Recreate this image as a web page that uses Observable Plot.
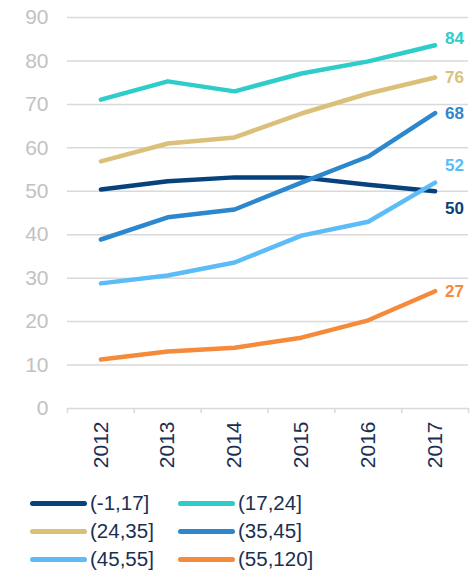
<!DOCTYPE html>
<html>
<head>
<meta charset="utf-8">
<script src="https://cdn.jsdelivr.net/npm/d3@7"></script>
<script src="https://cdn.jsdelivr.net/npm/@observablehq/plot@0.6"></script>
<style>
  html, body { margin: 0; padding: 0; background: #fff; }
  body { width: 471px; font-family: "Liberation Sans", Arial, sans-serif; }
  #legend { display: grid; grid-template-columns: 148px 148px; margin-left: 30px; margin-top: 1px; }
  .item { display: flex; align-items: center; height: 28px; line-height: 22px; font-size: 20.5px; color: #1c2f52; }
  .sw { width: 57px; height: 5px; border-radius: 3px; margin-right: 3px; }
</style>
</head>
<body>
<div id="chart"></div>
<div id="legend"></div>
<script>
const years = [2012, 2013, 2014, 2015, 2016, 2017];
const seriesNames = ["(-1,17]", "(17,24]", "(24,35]", "(35,45]", "(45,55]", "(55,120]"];
const colors = ["#08427c", "#2ecdca", "#dbc07a", "#2d87cc", "#5cbcf7", "#f68a3b"];
const s_m1_17   = [50.4, 52.3, 53.2, 53.2, 51.5, 50.0];
const s_17_24   = [71.1, 75.3, 73.0, 77.1, 79.9, 83.6];
const s_24_35   = [56.9, 61.0, 62.4, 67.9, 72.5, 76.2];
const s_35_45   = [38.9, 44.0, 45.8, 52.0, 58.0, 68.0];
const s_45_55   = [28.8, 30.6, 33.6, 39.8, 43.0, 52.0];
const s_55_120  = [11.3, 13.1, 14.0, 16.3, 20.3, 27.0];
const endLabels = ["50", "84", "76", "68", "52", "27"];
const yTicks = [0, 10, 20, 30, 40, 50, 60, 70, 80, 90];

const allSeries = [s_m1_17, s_17_24, s_24_35, s_35_45, s_45_55, s_55_120];
const labelDy = [17, -7, 0, 0, -17, 0];

const data = [];
allSeries.forEach((vals, i) => vals.forEach((v, j) => data.push({series: seriesNames[i], year: years[j], value: v})));
const last = allSeries.map((vals, i) => ({series: seriesNames[i], year: years[years.length - 1], value: vals[vals.length - 1], label: endLabels[i], dy: labelDy[i], color: colors[i]}));
const boundaries = years.map(y => y - 0.5).concat([years[years.length - 1] + 0.5]);

const chart = Plot.plot({
  width: 471,
  height: 488,
  marginTop: 17,
  marginLeft: 67,
  marginRight: 3,
  marginBottom: 80,
  style: {fontFamily: "Liberation Sans, Arial, sans-serif", background: "#fff"},
  x: {domain: [years[0] - 0.5, years[years.length - 1] + 0.5]},
  y: {domain: [0, 90]},
  color: {domain: seriesNames, range: colors},
  marks: [
    Plot.gridY(yTicks.filter(t => t > 0), {stroke: "#d9d9d9", strokeOpacity: 1, strokeWidth: 1.5}),
    Plot.ruleY([0], {stroke: "#d9d9d9", strokeWidth: 1.5}),
    Plot.axisX({ticks: boundaries, tickSize: 5, tickFormat: () => "", stroke: "#d9d9d9", strokeWidth: 1.5, label: null}),
    Plot.axisX({ticks: years, tickSize: 0, tickPadding: 13, tickRotate: -90, tickFormat: d => String(d), fontSize: 21, fill: "#1c2f52", label: null}),
    Plot.axisY({ticks: yTicks, tickSize: 0, tickPadding: 19, fontSize: 21, fill: "#c2c2c2", label: null}),
    Plot.line(data, {x: "year", y: "value", z: "series", stroke: "series", strokeWidth: 4.5, strokeLinecap: "round", strokeLinejoin: "round"}),
    ...last.map(d => Plot.text([d], {x: "year", y: "value", text: "label", fill: "color", dx: 10, dy: d.dy, textAnchor: "start", fontWeight: "bold", fontSize: 17}))
  ]
});
document.getElementById("chart").appendChild(chart);

const legend = document.getElementById("legend");
seriesNames.forEach((name, i) => {
  const it = document.createElement("div");
  it.className = "item";
  const sw = document.createElement("div");
  sw.className = "sw";
  sw.style.background = colors[i];
  const tx = document.createElement("span");
  tx.textContent = name;
  it.appendChild(sw);
  it.appendChild(tx);
  legend.appendChild(it);
});
</script>
</body>
</html>
